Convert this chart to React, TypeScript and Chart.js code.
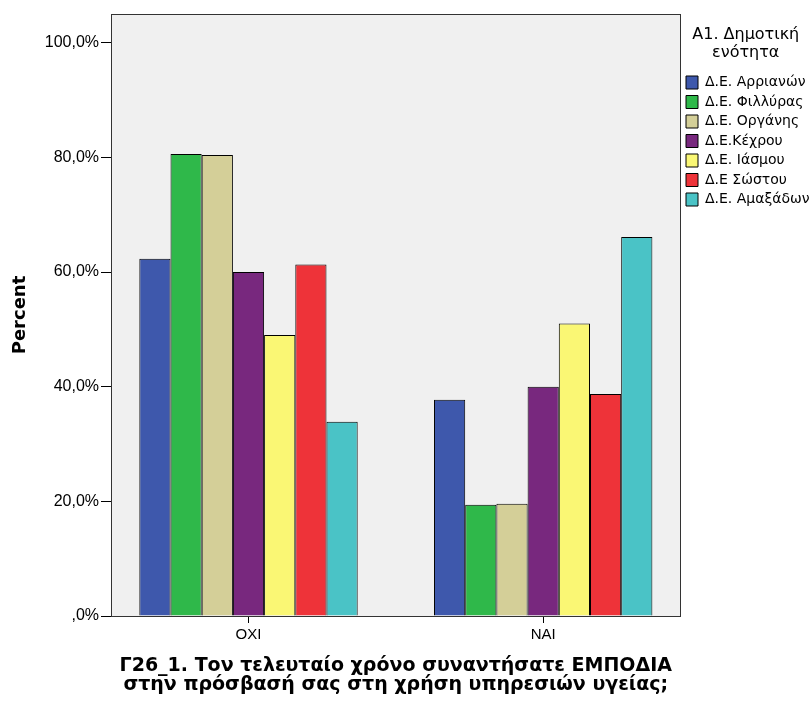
import React, { useEffect, useRef } from 'react';
import { Chart, registerables } from 'chart.js';

Chart.register(...registerables);

const categories = ['ΟΧΙ', 'ΝΑΙ'];
const municipalities = [
  'Δ.Ε. Αρριανών',
  'Δ.Ε. Φιλλύρας',
  'Δ.Ε. Οργάνης',
  'Δ.Ε.Κέχρου',
  'Δ.Ε. Ιάσμου',
  'Δ.Ε Σώστου',
  'Δ.Ε. Αμαξάδων',
];
const barColors = ['#3E58AC', '#2FB84A', '#D4CF98', '#78287E', '#FAF774', '#EE3339', '#4AC3C6'];
const valuesOxi = [62.3, 80.6, 80.4, 60.0, 49.0, 61.3, 33.9];
const valuesNai = [37.7, 19.4, 19.6, 40.0, 51.0, 38.7, 66.1];
const yTickValues = [0, 20, 40, 60, 80, 100];
const legendTitle = ['A1. Δημοτική', 'ενότητα'];
const xTitle = [
  'Γ26_1. Τον τελευταίο χρόνο συναντήσατε ΕΜΠΟΔΙΑ',
  'στην πρόσβασή σας στη χρήση υπηρεσιών υγείας;',
];
const yTitle = 'Percent';

const FONT = "'Liberation Sans', Arial, sans-serif";
const WIDE = "'DejaVu Sans', Verdana, sans-serif";
const W = 811;
const H = 703;
const LEGEND_W = 130.5;

const fmtPct = (v: number) => (v === 0 ? ',0%' : v.toFixed(1).replace('.', ',') + '%');

const framePlugin = {
  id: 'frame',
  beforeDraw(chart: any) {
    const { ctx, chartArea: a } = chart;
    ctx.save();
    ctx.fillStyle = '#F0F0F0';
    ctx.fillRect(a.left, a.top, a.right - a.left, a.bottom - a.top);
    ctx.restore();
  },
  afterDraw(chart: any) {
    const { ctx, chartArea: a } = chart;
    ctx.save();
    ctx.strokeStyle = '#333';
    ctx.lineWidth = 1;
    ctx.strokeRect(Math.round(a.left) + 0.5, Math.round(a.top) + 0.5, Math.round(a.right - a.left) - 1, Math.round(a.bottom - a.top));
    ctx.restore();
  },
};

const legendWidthPlugin = {
  id: 'legendWidth',
  afterInit(chart: any) {
    const lg = chart.legend;
    if (lg && !lg.__patched) {
      const orig = lg.fit.bind(lg);
      lg.fit = function () {
        orig();
        this.width = LEGEND_W;
      };
      lg.__patched = true;
    }
  },
};

export default function App() {
  const ref = useRef<HTMLCanvasElement>(null);

  useEffect(() => {
    if (!ref.current) return;
    const datasets = municipalities.map((name, i) => ({
      label: name,
      data: [
        { x: 0, y: valuesOxi[i] },
        { x: 1, y: valuesNai[i] },
      ],
      backgroundColor: barColors[i],
      borderColor: '#000',
      borderWidth: 1,
    }));

    const chart = new Chart(ref.current, {
      type: 'bar',
      data: { datasets },
      plugins: [legendWidthPlugin, framePlugin],
      options: {
        responsive: false,
        animation: false,
        devicePixelRatio: 1,
        events: [],
        categoryPercentage: 0.741,
        barPercentage: 1,
        layout: { padding: { top: 14, left: 0, right: 0, bottom: 0 } },
        scales: {
          x: {
            type: 'linear',
            offset: false,
            min: -0.4666,
            max: 1.4659,
            afterBuildTicks: (s: any) => {
              s.ticks = categories.map((_, i) => ({ value: i }));
            },
            afterFit: (s: any) => {
              s.height = 87;
            },
            ticks: {
              callback: (v: any) => categories[v] ?? '',
              color: '#000',
              font: { family: FONT, size: 15 },
              padding: 3,
              autoSkip: false,
              maxRotation: 0,
            },
            grid: { offset: false, drawOnChartArea: false, drawTicks: true, tickLength: 7, color: '#000' },
            border: { display: true, color: '#000', width: 1 },
            title: {
              display: true,
              text: xTitle,
              color: '#000',
              font: { family: WIDE, size: 19, weight: 'bold', lineHeight: 1 },
              padding: { top: 0, bottom: 8.5 },
            },
          },
          y: {
            min: 0,
            max: 105,
            afterBuildTicks: (s: any) => {
              s.ticks = yTickValues.map((v) => ({ value: v }));
            },
            afterFit: (s: any) => {
              s.width = 111;
            },
            ticks: {
              callback: (v: any) => fmtPct(Number(v)),
              color: '#000',
              font: { family: FONT, size: 16 },
              padding: 2,
            },
            grid: { drawOnChartArea: false, drawTicks: true, tickLength: 10, color: '#000' },
            border: { display: true, color: '#000', width: 1 },
            title: {
              display: true,
              text: yTitle,
              color: '#000',
              font: { family: WIDE, size: 18, weight: 'bold' },
              padding: { top: 10, bottom: 0 },
            },
          },
        },
        plugins: {
          tooltip: { enabled: false },
          legend: {
            position: 'right',
            align: 'start',
            title: {
              display: true,
              text: legendTitle,
              position: 'center',
              color: '#000',
              font: { family: WIDE, size: 16, lineHeight: 1.125 },
              padding: { top: 13, bottom: 25 },
            },
            labels: {
              boxWidth: 12,
              boxHeight: 13,
              padding: 5.5,
              color: '#000',
              font: { family: WIDE, size: 14 },
            },
          },
        },
      } as any,
    });

    return () => chart.destroy();
  }, []);

  return (
    <div style={{ position: 'fixed', left: 0, top: 0, width: W, height: H, background: '#fff' }}>
      <canvas ref={ref} width={W} height={H} style={{ display: 'block' }} />
    </div>
  );
}
